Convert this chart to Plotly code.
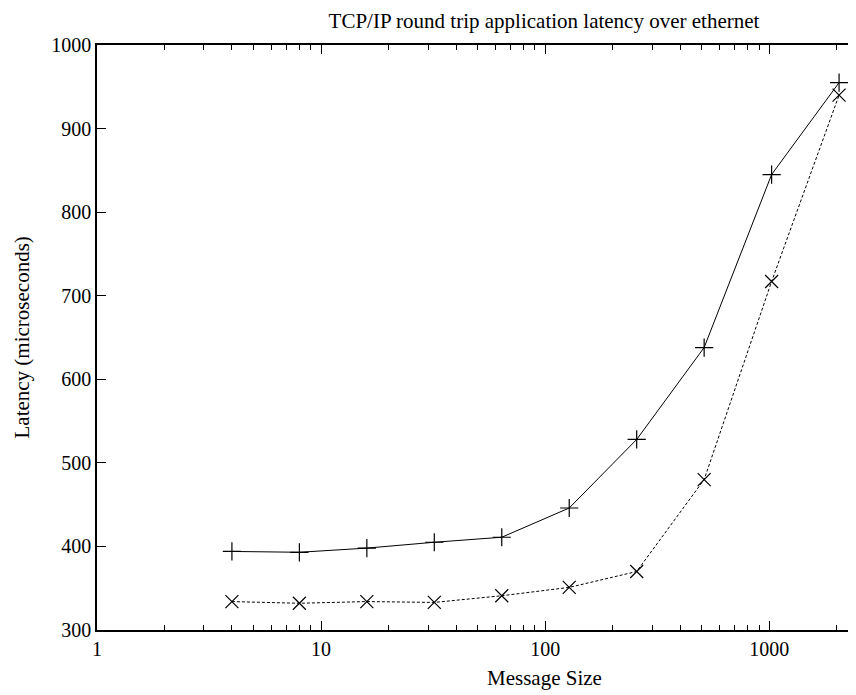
import plotly.graph_objects as go

message_size = [4, 8, 16, 32, 64, 128, 256, 512, 1024, 2048]
latency_plus = [394, 393, 398, 405, 411, 446, 528, 638, 845, 955]
latency_x = [334, 332, 334, 333, 341, 351, 370, 480, 717, 940]

major_ticks = [1, 10, 100, 1000]
minor_ticks = [m * 10**e for e in range(0, 4) for m in range(2, 10)]
y_ticks = [300, 400, 500, 600, 700, 800, 900, 1000]

FONT = "Liberation Serif"

fig = go.Figure()
fig.add_trace(go.Scatter(
    x=message_size, y=latency_plus, mode="lines+markers",
    line=dict(color="black", width=1),
    marker=dict(symbol="cross-thin-open", size=13, line=dict(color="black", width=1.2)),
    showlegend=False))
fig.add_trace(go.Scatter(
    x=message_size, y=latency_x, mode="lines+markers",
    line=dict(color="black", width=1, dash="3px,2px"),
    marker=dict(symbol="x-thin-open", size=13, line=dict(color="black", width=1.2)),
    showlegend=False))

# the page adds an 8px body margin; figure coordinates are page coordinates minus OFF
OFF = 8
W, H = 856, 695
L, T = 97 - OFF, 45 - OFF
R = OFF
B = H - (630 - OFF)
per_decade = 224.1
xmax = (W - L - R) / per_decade
plot_w = W - L - R
plot_h = H - T - B

fig.update_layout(
    width=W, height=H,
    margin=dict(l=L, r=R, t=T, b=B, autoexpand=False),
    paper_bgcolor="white", plot_bgcolor="white",
    font=dict(family=FONT, color="black", size=20),
    title=dict(text="TCP/IP round trip application latency over ethernet",
               x=(544 - OFF) / W, xanchor="center", xref="container",
               y=1 - (21 - OFF) / H, yanchor="middle",
               font=dict(family=FONT, size=21, color="black")),
    xaxis=dict(type="log", range=[0, xmax], tickvals=major_ticks,
               ticktext=[str(v) for v in major_ticks],
               ticks="inside", ticklen=9, tickcolor="black", tickwidth=1,
               showline=True, linecolor="black", linewidth=1.5, mirror="allticks",
               showgrid=False, zeroline=False, automargin=False,
               minor=dict(tickvals=minor_ticks, ticks="inside", ticklen=5, tickcolor="black", showgrid=False),
               tickfont=dict(size=20)),
    yaxis=dict(range=[300, 1000], tickvals=y_ticks,
               ticks="inside", ticklen=9, tickcolor="black", tickwidth=1,
               showline=True, linecolor="black", linewidth=1.5, mirror=False,
               showgrid=False, zeroline=False, automargin=False,
               tickfont=dict(size=20)),
    annotations=[
        dict(text="Message Size", xref="paper", yref="paper",
             x=(544 - 97) / plot_w, y=-(678 - 630) / plot_h,
             xanchor="center", yanchor="middle", showarrow=False,
             font=dict(family=FONT, size=21, color="black")),
        dict(text="Latency (microseconds)", xref="paper", yref="paper",
             x=-(97 - 21) / plot_w, y=0.5, textangle=-90,
             xanchor="center", yanchor="middle", showarrow=False,
             font=dict(family=FONT, size=21, color="black")),
    ],
)

fig.write_html("out.html")
